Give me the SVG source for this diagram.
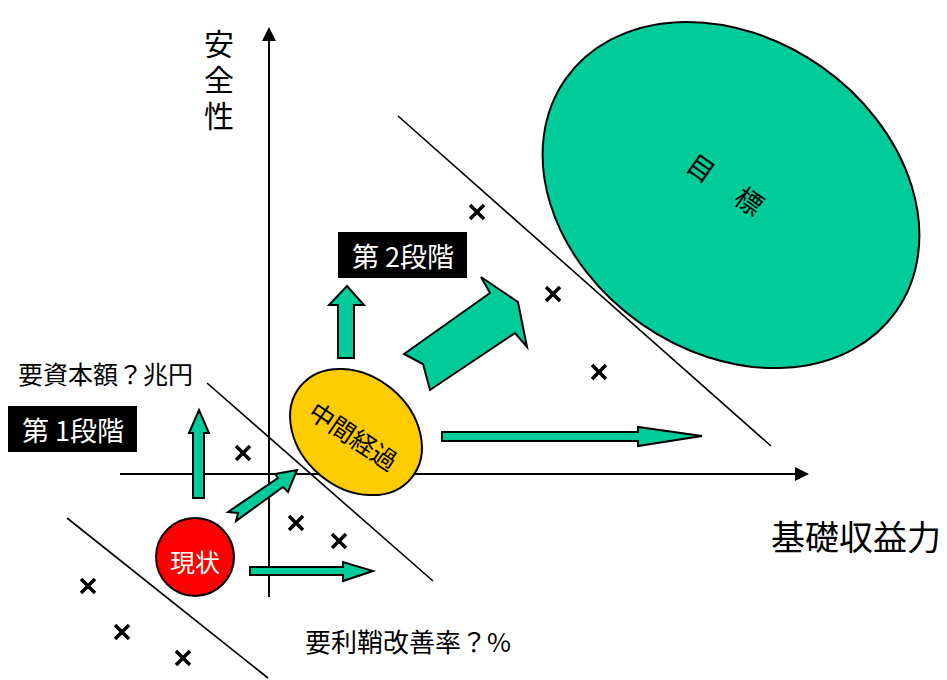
<svg xmlns="http://www.w3.org/2000/svg" width="947" height="680" viewBox="0 0 947 680">
<style>
.t{font-family:"Noto Sans CJK JP","Noto Sans",sans-serif;fill:#000}
.w{fill:#fff}
.arr{fill:#00CC99;stroke:#000;stroke-width:2;stroke-linejoin:miter}
.ln{stroke:#000;stroke-width:1.6;fill:none}
.ax{stroke:#000;stroke-width:2;fill:none}
.x{stroke:#000;stroke-width:3.5;stroke-linecap:butt}
</style>
<defs>
<g id="cross"><line class="x" x1="-7" y1="-7" x2="7" y2="7"/><line class="x" x1="-7" y1="7" x2="7" y2="-7"/></g>
</defs>
<rect width="947" height="680" fill="#fff"/>
<g id="axes">
<line class="ax" x1="269" y1="597" x2="269" y2="38"/>
<polygon points="269,27 262,41 276,41" fill="#000"/>
<line class="ax" x1="120" y1="474" x2="798" y2="474"/>
<polygon points="809,474 795,467 795,481" fill="#000"/>
</g>
<g id="connectors">
<line class="ln" x1="398" y1="116" x2="771" y2="446"/>
<line class="ln" x1="207" y1="383" x2="433" y2="581"/>
<line class="ln" x1="67" y1="518" x2="268" y2="678"/>
<polygon class="arr" points="193,498 193,433 189,433 199,410 209,433 204,433 204,498"/>
<polygon class="arr" points="228,512 278,478 275,474 297,470 288,492 283,487 236,521 238,513"/>
<polygon class="arr" points="250,567 343,567 343,562 373,571 343,581 343,575 250,575"/>
<polygon class="arr" points="338,358 338,305 329,305 347,286 364,305 354,305 354,358"/>
<polygon class="arr" points="404,354 490,293 481,277 518,302 527,347 515,333 430,390 423,364"/>
<polygon class="arr" points="442,432 638,432 638,427 702,436 638,446 638,441 442,441"/>
</g>
<g id="marks">
<use href="#cross" x="477" y="212"/>
<use href="#cross" x="553" y="294"/>
<use href="#cross" x="599" y="372"/>
<use href="#cross" x="243" y="453"/>
<use href="#cross" x="296" y="523"/>
<use href="#cross" x="339" y="541"/>
<use href="#cross" x="88" y="586"/>
<use href="#cross" x="122" y="632"/>
<use href="#cross" x="183" y="658"/>
</g>
<g id="goal">
<ellipse cx="731" cy="195" rx="202" ry="157" transform="rotate(35 731 195)" fill="#00CC99" stroke="#000" stroke-width="2"/>
<text class="t" x="702" y="167" font-size="27" text-anchor="middle" dominant-baseline="central" transform="rotate(35 702 167)">目</text>
<text class="t" x="750" y="200" font-size="27" text-anchor="middle" dominant-baseline="central" transform="rotate(35 750 200)">標</text>
</g>
<g id="mid">
<ellipse cx="356" cy="432" rx="72" ry="56" transform="rotate(40 356 432)" fill="#FFCC00" stroke="#000" stroke-width="2"/>
<text class="t" x="354" y="435" font-size="25" text-anchor="middle" dominant-baseline="central" transform="rotate(34 354 435)">中間経過</text>
</g>
<g id="current">
<circle cx="195" cy="557" r="39" fill="#FF0000" stroke="#000" stroke-width="2"/>
<text class="t w" x="195" y="561" font-size="25" text-anchor="middle" dominant-baseline="central">現状</text>
</g>
<g id="stage1">
<rect x="8" y="406" width="129" height="46" fill="#000"/>
<text class="t w" x="73" y="429" font-size="27" text-anchor="middle" dominant-baseline="central">第 1段階</text>
</g>
<g id="stage2">
<rect x="338" y="232" width="129" height="46" fill="#000"/>
<text class="t w" x="403" y="255" font-size="27" text-anchor="middle" dominant-baseline="central">第 2段階</text>
</g>
<g id="labels">
<text class="t" x="219" y="29" font-size="30" writing-mode="vertical-rl" letter-spacing="6">安全性</text>
<text class="t" x="856" y="535" font-size="34" text-anchor="middle" dominant-baseline="central">基礎収益力</text>
<text class="t" x="18" y="373" font-size="25" dominant-baseline="central">要資本額？兆円</text>
<text class="t" x="305" y="640" font-size="26" dominant-baseline="central">要利鞘改善率？%</text>
</g>
</svg>
